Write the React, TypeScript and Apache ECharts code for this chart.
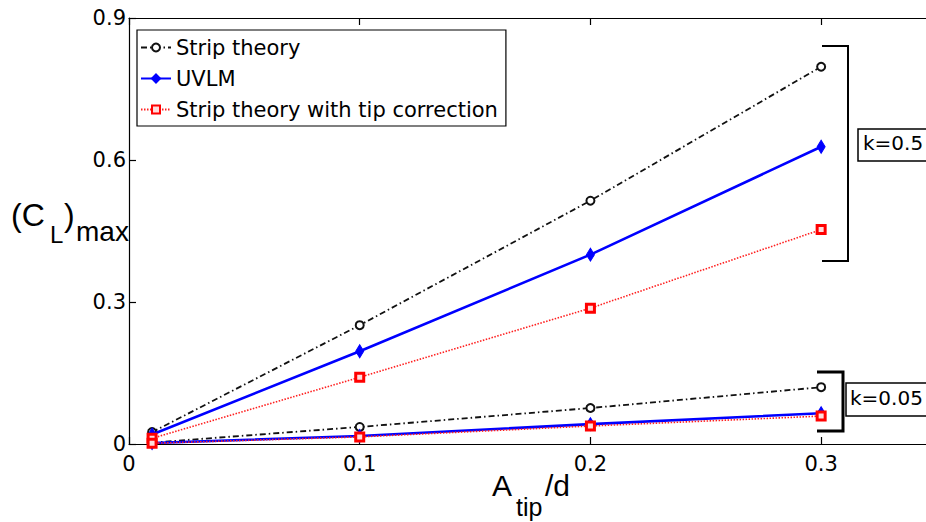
import React, { useEffect, useRef } from "react";
import * as echarts from "echarts";

const xVals = [0.01, 0.1, 0.2, 0.3];
const stripK05 = [0.025, 0.251, 0.514, 0.797];
const uvlmK05 = [0.02, 0.196, 0.4, 0.628];
const tipK05 = [0.012, 0.141, 0.287, 0.453];
const stripK005 = [0.003, 0.036, 0.076, 0.12];
const uvlmK005 = [0.002, 0.017, 0.042, 0.065];
const tipK005 = [0.0015, 0.015, 0.038, 0.059];

const seriesNames = ["Strip theory", "UVLM", "Strip theory with tip correction"];
const bracketLabels = ["k=0.5", "k=0.05"];

const FONT = "Liberation Sans, Arial, Helvetica, sans-serif";
const WFONT = "DejaVu Sans, Liberation Sans, sans-serif";

const pairs = (ys: number[]) => xVals.map((x, i) => [x, ys[i]]);

function stripSeries(ys: number[]) {
  return {
    name: seriesNames[0],
    type: "line",
    data: pairs(ys),
    symbol: "emptyCircle",
    symbolSize: 8,
    lineStyle: { color: "#111", width: 1.8, type: [6, 3, 1.5, 3] },
    itemStyle: { color: "#111", borderColor: "#111", borderWidth: 2 },
    z: 2,
  };
}
function uvlmSeries(ys: number[]) {
  return {
    name: seriesNames[1],
    type: "line",
    data: pairs(ys),
    symbol: "diamond",
    symbolSize: [8, 13],
    lineStyle: { color: "#0000ff", width: 2.6, type: "solid" },
    itemStyle: { color: "#0000ff", borderColor: "#0000ff", borderWidth: 1 },
    z: 3,
  };
}
function tipSeries(ys: number[]) {
  return {
    name: seriesNames[2],
    type: "line",
    data: pairs(ys),
    symbol: "rect",
    symbolSize: 8,
    lineStyle: { color: "#ff2020", width: 1.6, type: [1.5, 1.5] },
    itemStyle: { color: "#ffdddd", borderColor: "#ff0000", borderWidth: 3 },
    z: 4,
  };
}

const tickFmt = (v: number) => (v === 0 ? "0" : v > 0.31 && v < 0.4 ? "" : v.toFixed(1));

export default function App() {
  const ref = useRef<HTMLDivElement>(null);
  useEffect(() => {
    if (!ref.current) return;
    const chart = echarts.init(ref.current, null, { renderer: "svg" });
    const axisCommon = {
      type: "value",
      min: 0,
      axisLine: { show: true, lineStyle: { color: "#000", width: 1.2 } },
      axisTick: { show: true, inside: true, length: 7, lineStyle: { color: "#000", width: 1.2 } },
      splitLine: { show: false },
    };
    chart.setOption({
      animation: false,
      backgroundColor: "#fff",
      grid: { left: 129, top: 18, bottom: 78, right: 23.5, containLabel: false },
      xAxis: [
        {
          ...axisCommon,
          position: "bottom",
          max: 0.35,
          interval: 0.1,
          axisLabel: {
            color: "#000",
            fontSize: 21,
            fontFamily: WFONT,
            margin: 9,
            formatter: tickFmt,
          },
        },
        {
          ...axisCommon,
          position: "top",
          max: 0.35,
          interval: 0.1,
          axisLabel: { show: false },
        },
      ],
      yAxis: {
        ...axisCommon,
        max: 0.9,
        interval: 0.3,
        axisLabel: {
          color: "#000",
          fontSize: 21,
          fontFamily: WFONT,
          margin: 3,
          formatter: tickFmt,
        },
      },
      legend: {
        orient: "vertical",
        left: 137,
        top: 30,
        data: seriesNames,
        backgroundColor: "#fff",
        borderColor: "#000",
        borderWidth: 1.2,
        borderRadius: 0,
        padding: [7, 8, 6, 3],
        itemGap: 10,
        itemWidth: 30,
        itemHeight: 10,
        textStyle: { color: "#000", fontSize: 21, fontFamily: WFONT },
      },
      series: [
        stripSeries(stripK05),
        uvlmSeries(uvlmK05),
        tipSeries(tipK05),
        stripSeries(stripK005),
        uvlmSeries(uvlmK005),
        tipSeries(tipK005),
      ],
      graphic: [
        // y axis title
        { type: "text", left: 11, top: 199, style: { text: "(C", font: `32px ${FONT}`, fill: "#000" } },
        { type: "text", left: 50, top: 222, style: { text: "L", font: `24px ${FONT}`, fill: "#000" } },
        { type: "text", left: 64, top: 199, style: { text: ")", font: `32px ${FONT}`, fill: "#000" } },
        { type: "text", left: 76, top: 217, style: { text: "max", font: `28px ${FONT}`, fill: "#000" } },
        // x axis title
        { type: "text", left: 492, top: 470, style: { text: "A", font: `30px ${FONT}`, fill: "#000" } },
        { type: "text", left: 516, top: 494, style: { text: "tip", font: `25px ${FONT}`, fill: "#000" } },
        { type: "text", left: 545, top: 470, style: { text: "/d", font: `30px ${FONT}`, fill: "#000" } },
        // big bracket
        {
          type: "polyline",
          shape: { points: [[822, 46], [848, 46], [848, 261], [822, 261]] },
          style: { stroke: "#000", lineWidth: 2, fill: null },
        },
        {
          type: "rect",
          shape: { x: 858, y: 129, width: 90, height: 32 },
          style: { stroke: "#000", lineWidth: 1.5, fill: "#fff" },
        },
        { type: "text", left: 863, top: 133, style: { text: bracketLabels[0], font: `20px ${WFONT}`, fill: "#000" } },
        // small bracket
        {
          type: "polyline",
          shape: { points: [[817, 372], [843, 372], [843, 431], [817, 431]] },
          style: { stroke: "#000", lineWidth: 3, fill: null },
        },
        {
          type: "rect",
          shape: { x: 846, y: 383, width: 100, height: 33 },
          style: { stroke: "#000", lineWidth: 1.5, fill: "#fff" },
        },
        { type: "text", left: 850, top: 388, style: { text: bracketLabels[1], font: `20px ${WFONT}`, fill: "#000" } },
      ],
    });
    return () => chart.dispose();
  }, []);
  return (
    <div
      style={{
        position: "fixed",
        left: 0,
        top: 0,
        width: 926,
        height: 522,
        overflow: "hidden",
        background: "#fff",
      }}
    >
      <div ref={ref} style={{ width: 960, height: 522 }} />
    </div>
  );
}
